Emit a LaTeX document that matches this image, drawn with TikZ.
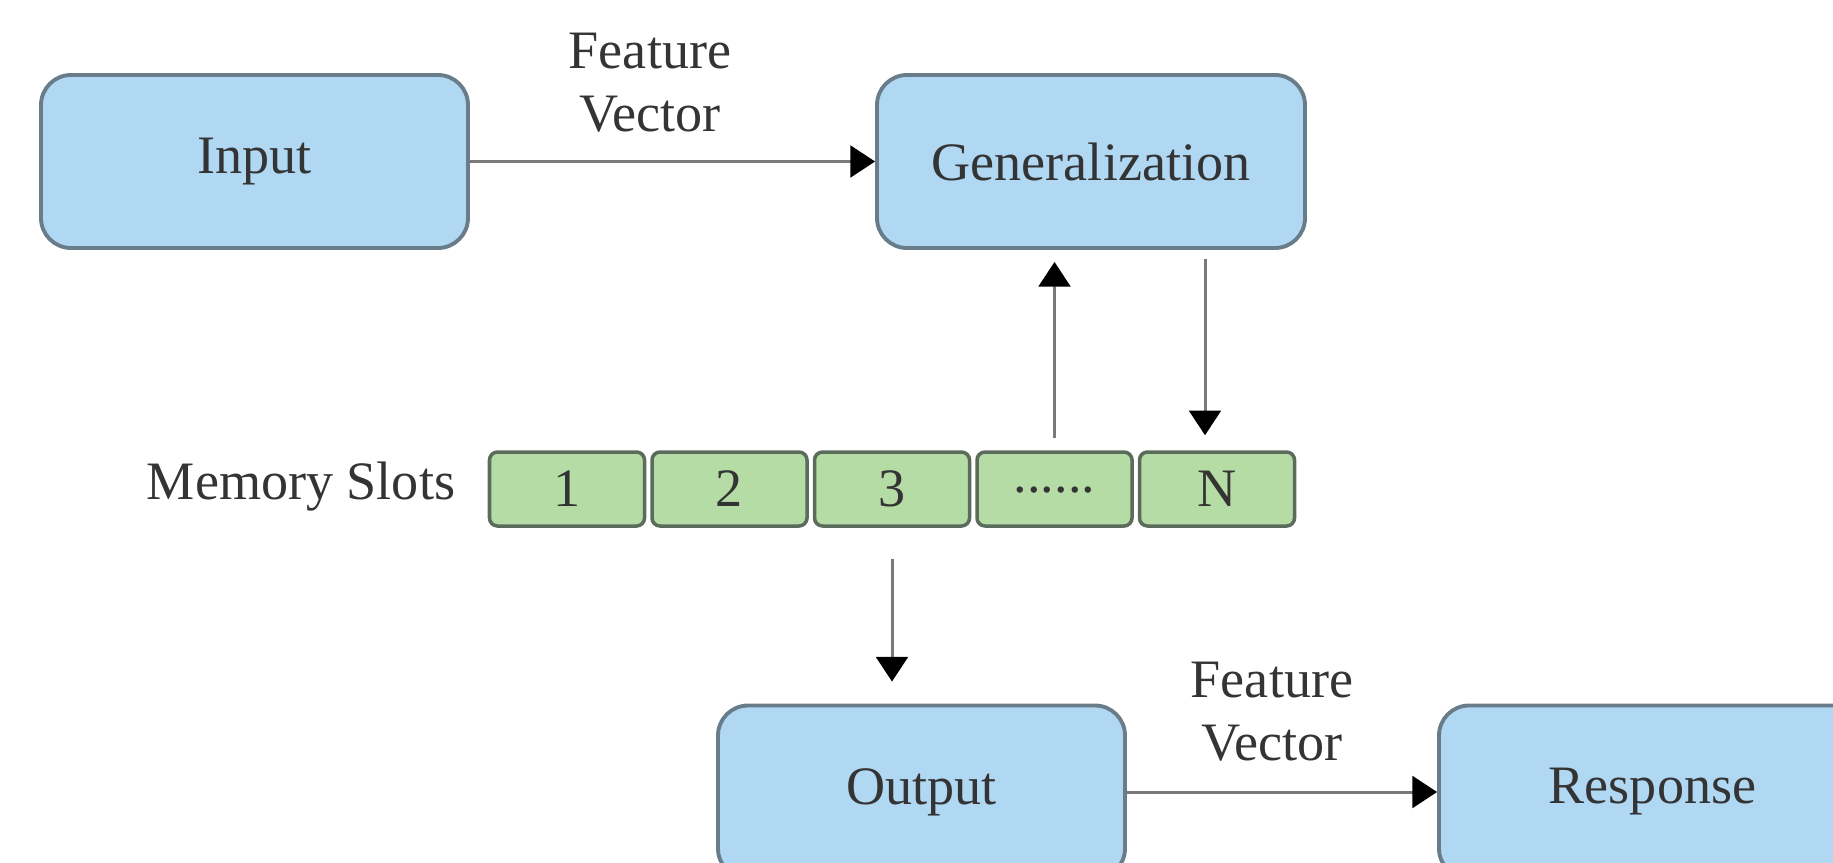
\documentclass[tikz,border=0pt]{standalone}
\usepackage{fontspec}
\setmainfont{Liberation Serif}
\usepackage{tikz}
\usetikzlibrary{arrows.meta}
\definecolor{boxblue}{RGB}{176,216,242}
\definecolor{boxedge}{RGB}{104,124,138}
\definecolor{slotgreen}{RGB}{181,220,164}
\definecolor{slotedge}{RGB}{92,108,92}
\definecolor{linegray}{RGB}{122,122,122}
\definecolor{textgray}{RGB}{52,52,52}
\begin{document}
\begin{tikzpicture}[node font=\fontsize{15.4}{18}\selectfont, text=textgray,
	block/.style={draw=boxedge, line width=1.1pt, fill=boxblue, rounded corners=0.3cm, minimum height=1.73cm},
	slot/.style={draw=slotedge, line width=1pt, fill=slotgreen, rounded corners=0.08cm, minimum width=1.55cm, minimum height=0.74cm},
	flow/.style={draw=linegray, line width=0.85pt, -{Triangle[length=7pt,width=9pt,color=black]}}]
			\useasboundingbox (0,0) rectangle (18.33,8.62);
			% top row
			\node[block, minimum width=4.27cm] (input) at (2.545,7.005) {Input};
			\node[block, minimum width=4.28cm] (gen) at (10.91,7.005) {Generalization};
			\node[align=center] (fvone) at (6.50,7.79) {Feature\\Vector};
			% memory
			\node (memlabel) at (3.01,3.75) {Memory Slots};
			\node[slot] (slotone) at (5.67,3.73) {1};
			\node[slot] (slottwo) at (7.295,3.73) {2};
			\node[slot] (slotthree) at (8.92,3.73) {3};
			\node[slot] (slotdots) at (10.545,3.73) {\raisebox{-0.3ex}{......}};
			\node[slot] (slotN) at (12.17,3.73) {N};
			% bottom row
			\node[block, minimum width=4.07cm] (output) at (9.215,0.70) {Output};
			\node[block, minimum width=4.27cm] (response) at (16.525,0.70) {Response};
			\node[align=center] (fvtwo) at (12.72,1.50) {Feature\\Vector};
			% connectors
			\draw[flow] (input) -- (gen);
			\draw[flow, shorten <=0.12cm, shorten >=0.12cm] (slotdots.north) -- (slotdots.north |- gen.south);
			\draw[flow, shorten <=0.09cm, shorten >=0.15cm] ([xshift=-0.12cm]slotN.north |- gen.south) -- ([xshift=-0.12cm]slotN.north);
			\draw[flow, shorten <=0.31cm, shorten >=0.22cm] (slotthree.south) -- (slotthree.south |- output.north);
			\draw[flow] (output) -- (response);
		\end{tikzpicture}
\end{document}
